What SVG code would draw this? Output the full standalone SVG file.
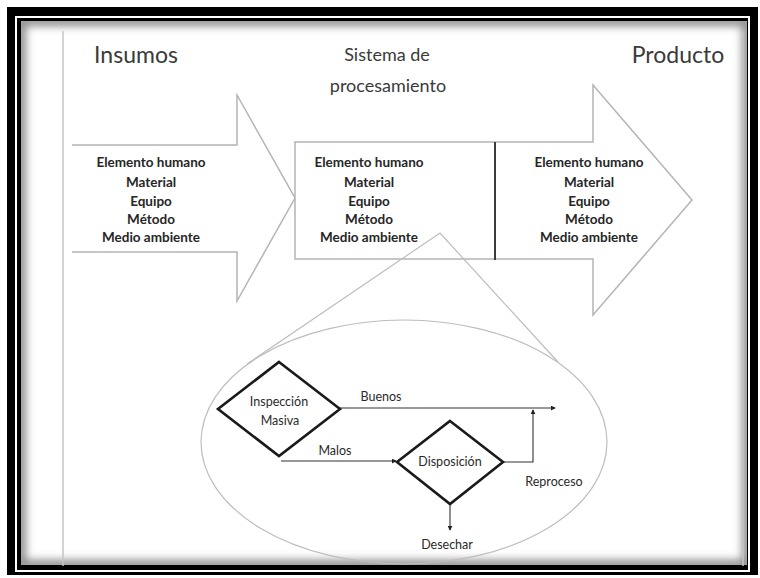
<svg xmlns="http://www.w3.org/2000/svg" width="760" height="578" viewBox="0 0 760 578">
  <style>
    .title { font-family: Lato, "Open Sans", sans-serif; font-size: 23px; fill: #3a3a3a; text-anchor: middle; }
    .sub { font-family: Lato, "Open Sans", sans-serif; font-size: 18px; fill: #3a3a3a; text-anchor: middle; }
    .item { font-family: Lato, "Open Sans", sans-serif; font-size: 13.5px; fill: #262626; text-anchor: middle; font-weight: bold; }
    .flow { font-family: Lato, "Open Sans", sans-serif; font-size: 12.5px; fill: #2a2a2a; text-anchor: middle; }
    .arrowShape { fill: #fff; stroke: #b4b4b4; stroke-width: 1.5; }
    .open { fill: none; stroke: #b4b4b4; stroke-width: 1.5; }
    .diamond { fill: #fff; stroke: #1a1a1a; stroke-width: 2.6; }
    .link { fill: none; stroke: #333; stroke-width: 1.1; }
    .lens { fill: none; stroke: #bdbdbd; stroke-width: 1.2; }
    .margin { stroke: #c4c4c4; stroke-width: 1.5; }
  </style>
  <defs>
    <marker id="tip" viewBox="0 0 6 6" refX="5" refY="3" markerWidth="5" markerHeight="5" orient="auto" markerUnits="userSpaceOnUse">
      <path d="M0,0 L6,3 L0,6 z" fill="#222"/>
    </marker>
    <clipPath id="inside">
      <rect x="21" y="21" width="726" height="544"/>
    </clipPath>
    <filter id="soft" x="-5%" y="-5%" width="110%" height="110%">
      <feGaussianBlur stdDeviation="4"/>
    </filter>
  </defs>

  <!-- page frame: thick black border, white rule, thin black rule, inner shadow -->
  <rect x="0" y="0" width="760" height="578" fill="#fff"/>
  <rect x="7" y="7" width="751" height="568" fill="#000"/>
  <rect x="15" y="16" width="735" height="556" fill="#fff"/>
  <rect x="17" y="18" width="731" height="552" fill="#000"/>
  <rect x="21" y="21" width="726" height="544" fill="#fff"/>
  <g clip-path="url(#inside)">
    <rect x="21" y="21" width="726" height="544" fill="none" stroke="#8a8a8a" stroke-width="10" filter="url(#soft)"/>
  </g>
  <line class="margin" x1="63" y1="31" x2="63" y2="566"/>
  <line class="margin" x1="743" y1="31" x2="743" y2="566"/>

  <!-- headings -->
  <text class="title" x="136" y="63">Insumos</text>
  <text class="sub" x="387" y="61">Sistema de</text>
  <text class="sub" x="388" y="92">procesamiento</text>
  <text class="title" x="678" y="63">Producto</text>

  <!-- input arrow -->
  <g id="insumos">
    <path class="open" d="M72,145 H237 V95 L295,198 L237,301 V252 H72"/>
    <text class="item" x="151" y="167">Elemento humano</text>
    <text class="item" x="151" y="187">Material</text>
    <text class="item" x="151" y="206">Equipo</text>
    <text class="item" x="151" y="224">Método</text>
    <text class="item" x="151" y="242">Medio ambiente</text>
  </g>

  <!-- processing box and output arrow -->
  <g id="proceso-producto">
    <path class="arrowShape" d="M295,142 H593 V85 L692,200 L593,315 V259 H295 Z"/>
    <line x1="495" y1="142" x2="495" y2="260" stroke="#3c3c3c" stroke-width="2"/>
  </g>
  <g id="proceso">
    <text class="item" x="369" y="167">Elemento humano</text>
    <text class="item" x="369" y="187">Material</text>
    <text class="item" x="369" y="206">Equipo</text>
    <text class="item" x="369" y="224">Método</text>
    <text class="item" x="369" y="242">Medio ambiente</text>
  </g>
  <g id="producto">
    <text class="item" x="589" y="167">Elemento humano</text>
    <text class="item" x="589" y="187">Material</text>
    <text class="item" x="589" y="206">Equipo</text>
    <text class="item" x="589" y="224">Método</text>
    <text class="item" x="589" y="242">Medio ambiente</text>
  </g>

  <!-- magnifier: detail of the processing step -->
  <g id="detalle">
    <path class="lens" d="M247,364 L440,233 L558,362"/>
    <ellipse class="lens" cx="404" cy="442" rx="203" ry="122"/>
  </g>

  <g id="connectors">
    <path class="link" d="M339,408 H555" marker-end="url(#tip)"/>
    <path class="link" d="M281,461 H396" marker-end="url(#tip)"/>
    <path class="link" d="M503,462 H533 V410" marker-end="url(#tip)"/>
    <path class="link" d="M450,504 V530" marker-end="url(#tip)"/>
  </g>

  <g id="inspeccion">
    <polygon class="diamond" points="279,362 340,409 279,456 218,409"/>
    <text class="flow" x="279" y="406">Inspección</text>
    <text class="flow" x="280" y="425">Masiva</text>
  </g>
  <g id="disposicion">
    <polygon class="diamond" points="450,421 503,462 450,504 397,462"/>
    <text class="flow" x="450" y="466">Disposición</text>
  </g>

  <g id="labels">
    <text class="flow" x="381" y="401">Buenos</text>
    <text class="flow" x="335" y="455">Malos</text>
    <text class="flow" x="554" y="486">Reproceso</text>
    <text class="flow" x="447" y="549">Desechar</text>
  </g>
</svg>
